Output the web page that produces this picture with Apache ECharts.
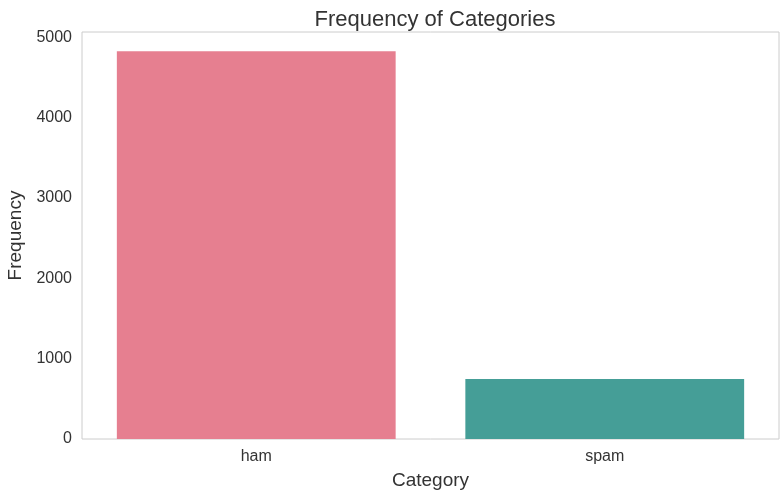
<!DOCTYPE html>
<html>
<head>
<meta charset="utf-8">
<script src="https://cdn.jsdelivr.net/npm/echarts@6/dist/echarts.min.js"></script>
<style>
  html, body { margin: 0; padding: 0; background: #fff; }
  #main { width: 784px; height: 495px; }
</style>
</head>
<body>
<div id="main"></div>
<script>
  var categories = ['ham', 'spam'];
  var counts = [4825, 747];
  var barColors = ['#e67f90', '#459e97'];

  var myChart = echarts.init(document.getElementById('main'));
  var font = 'Liberation Sans, Arial, sans-serif';

  var option = {
    animation: false,
    title: {
      text: 'Frequency of Categories',
      left: 430, top: 4,
      textAlign: 'center',
      textStyle: { fontFamily: font, fontSize: 22, fontWeight: 'normal', color: '#333' }
    },
    grid: {
      left: 82, right: 5, top: 32, bottom: 56,
      outerBoundsMode: 'none',
      show: true, borderColor: '#cccccc', borderWidth: 1
    },
    xAxis: {
      type: 'category',
      data: categories,
      name: 'Category',
      nameLocation: 'middle',
      nameGap: 32,
      nameTextStyle: { fontFamily: font, fontSize: 19, color: '#333' },
      axisLine: { show: false },
      axisTick: { show: false },
      axisLabel: { fontFamily: font, fontSize: 16, color: '#333', margin: 10 }
    },
    yAxis: {
      type: 'value',
      min: 0, max: 5066, interval: 1000,
      name: 'Frequency',
      nameLocation: 'middle',
      nameGap: 48,
      nameTextStyle: { fontFamily: font, fontSize: 19, color: '#333' },
      axisLine: { show: false },
      axisTick: { show: false },
      splitLine: { show: false },
      axisLabel: {
        fontFamily: font, fontSize: 16, color: '#333', margin: 10,
        formatter: function (v) { return v % 1000 === 0 ? String(v) : ''; }
      }
    },
    series: [{
      type: 'bar',
      barCategoryGap: '20%',
      data: counts.map(function (v, i) {
        return { value: v, itemStyle: { color: barColors[i] } };
      })
    }]
  };
  myChart.setOption(option);
</script>
</body>
</html>
